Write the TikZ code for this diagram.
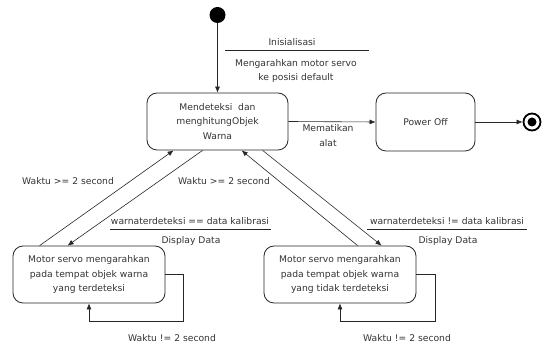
\documentclass[tikz,border=0pt]{standalone}
\usepackage{fontspec}
\setmainfont{DejaVu Sans}
\usetikzlibrary{arrows.meta}
\begin{document}
\begin{tikzpicture}[x=1pt,y=-1pt,
  state/.style={draw=black!85, rounded corners=10pt, line width=0.8pt, align=center, inner sep=0pt,
    font=\fontsize{9.2}{14.5}\selectfont, text=black!80},
  lbl/.style={font=\fontsize{9.2}{14.5}\selectfont, align=center, inner sep=0pt, text=black!80},
  tr/.style={-{Latex[length=6pt,width=5pt]}, line width=0.6pt, draw=black!85},
  sep/.style={line width=0.6pt, draw=black!85}
]
\useasboundingbox (0,0) rectangle (542,344);
% states
\node[state, minimum width=141pt, minimum height=57pt] (main) at (217.5,121.5)
  {Mendeteksi\ \ dan\\menghitungObjek\\Warna};
\node[state, minimum width=99pt, minimum height=58pt] (power) at (425.5,122) {Power Off};
\node[state, minimum width=152pt, minimum height=57pt] (left) at (89,274.5)
  {Motor servo mengarahkan\\pada tempat objek warna\\yang terdeteksi};
\node[state, minimum width=152pt, minimum height=57pt] (right) at (340,274.5)
  {Motor servo mengarahkan\\pada tempat objek warna\\yang tidak terdeteksi};
% initial and final
\node[circle, fill=black, minimum size=16pt, inner sep=0pt] (init) at (217.5,15) {};
\node[circle, draw=black, line width=1.8pt, minimum size=17pt, inner sep=0pt] (fin) at (532,122) {};
\node[circle, fill=black, minimum size=9pt, inner sep=0pt] (finc) at (fin) {};
% transitions
\draw[tr] (init) -- (main.north);
\draw[tr] (main.east) -- (power.west);
\draw[tr] (power.east) -- (fin.west);
\draw[tr] ([xshift=27pt]left.north west) -- ([xshift=27pt]main.south west);
\draw[tr] ([xshift=56pt]main.south west) -- ([xshift=55pt]left.north west);
\draw[tr] ([xshift=94pt]right.north west) -- ([xshift=95pt]main.south west);
\draw[tr] ([xshift=116pt]main.south west) -- ([xshift=118pt]right.north west);
\draw[tr] (left.east) -| ++(18,46.5) -| (left.south);
\draw[tr] (right.east) -| ++(19,47) -| (right.south);
% labels
\node[lbl] (l1) at (292,42) {Inisialisasi};
\coordinate (s1a) at (225,50);
\coordinate (s1b) at (369,50);
\draw[sep] (s1a) -- (s1b);
\node[lbl] (l2) at (296,71) {Mengarahkan motor servo\\ke posisi default};
\node[lbl] (l3) at (328,135.5) {Mematikan\\alat};
\node[lbl] (l4) at (68,181) {Waktu >= 2 second};
\node[lbl] (l5) at (224,181) {Waktu >= 2 second};
\node[lbl] (l6) at (190,221) {warnaterdeteksi == data kalibrasi};
\coordinate (s2a) at (110,229);
\coordinate (s2b) at (271,229);
\draw[sep] (s2a) -- (s2b);
\node[lbl] (l7) at (191,241) {Display Data};
\node[lbl] (l8) at (447,221) {warnaterdeteksi != data kalibrasi};
\coordinate (s3a) at (367,229);
\coordinate (s3b) at (527,229);
\draw[sep] (s3a) -- (s3b);
\node[lbl] (l9) at (448,241) {Display Data};
\node[lbl] (l10) at (172,338) {Waktu != 2 second};
\node[lbl] (l11) at (407,338) {Waktu != 2 second};
\end{tikzpicture}
\end{document}
